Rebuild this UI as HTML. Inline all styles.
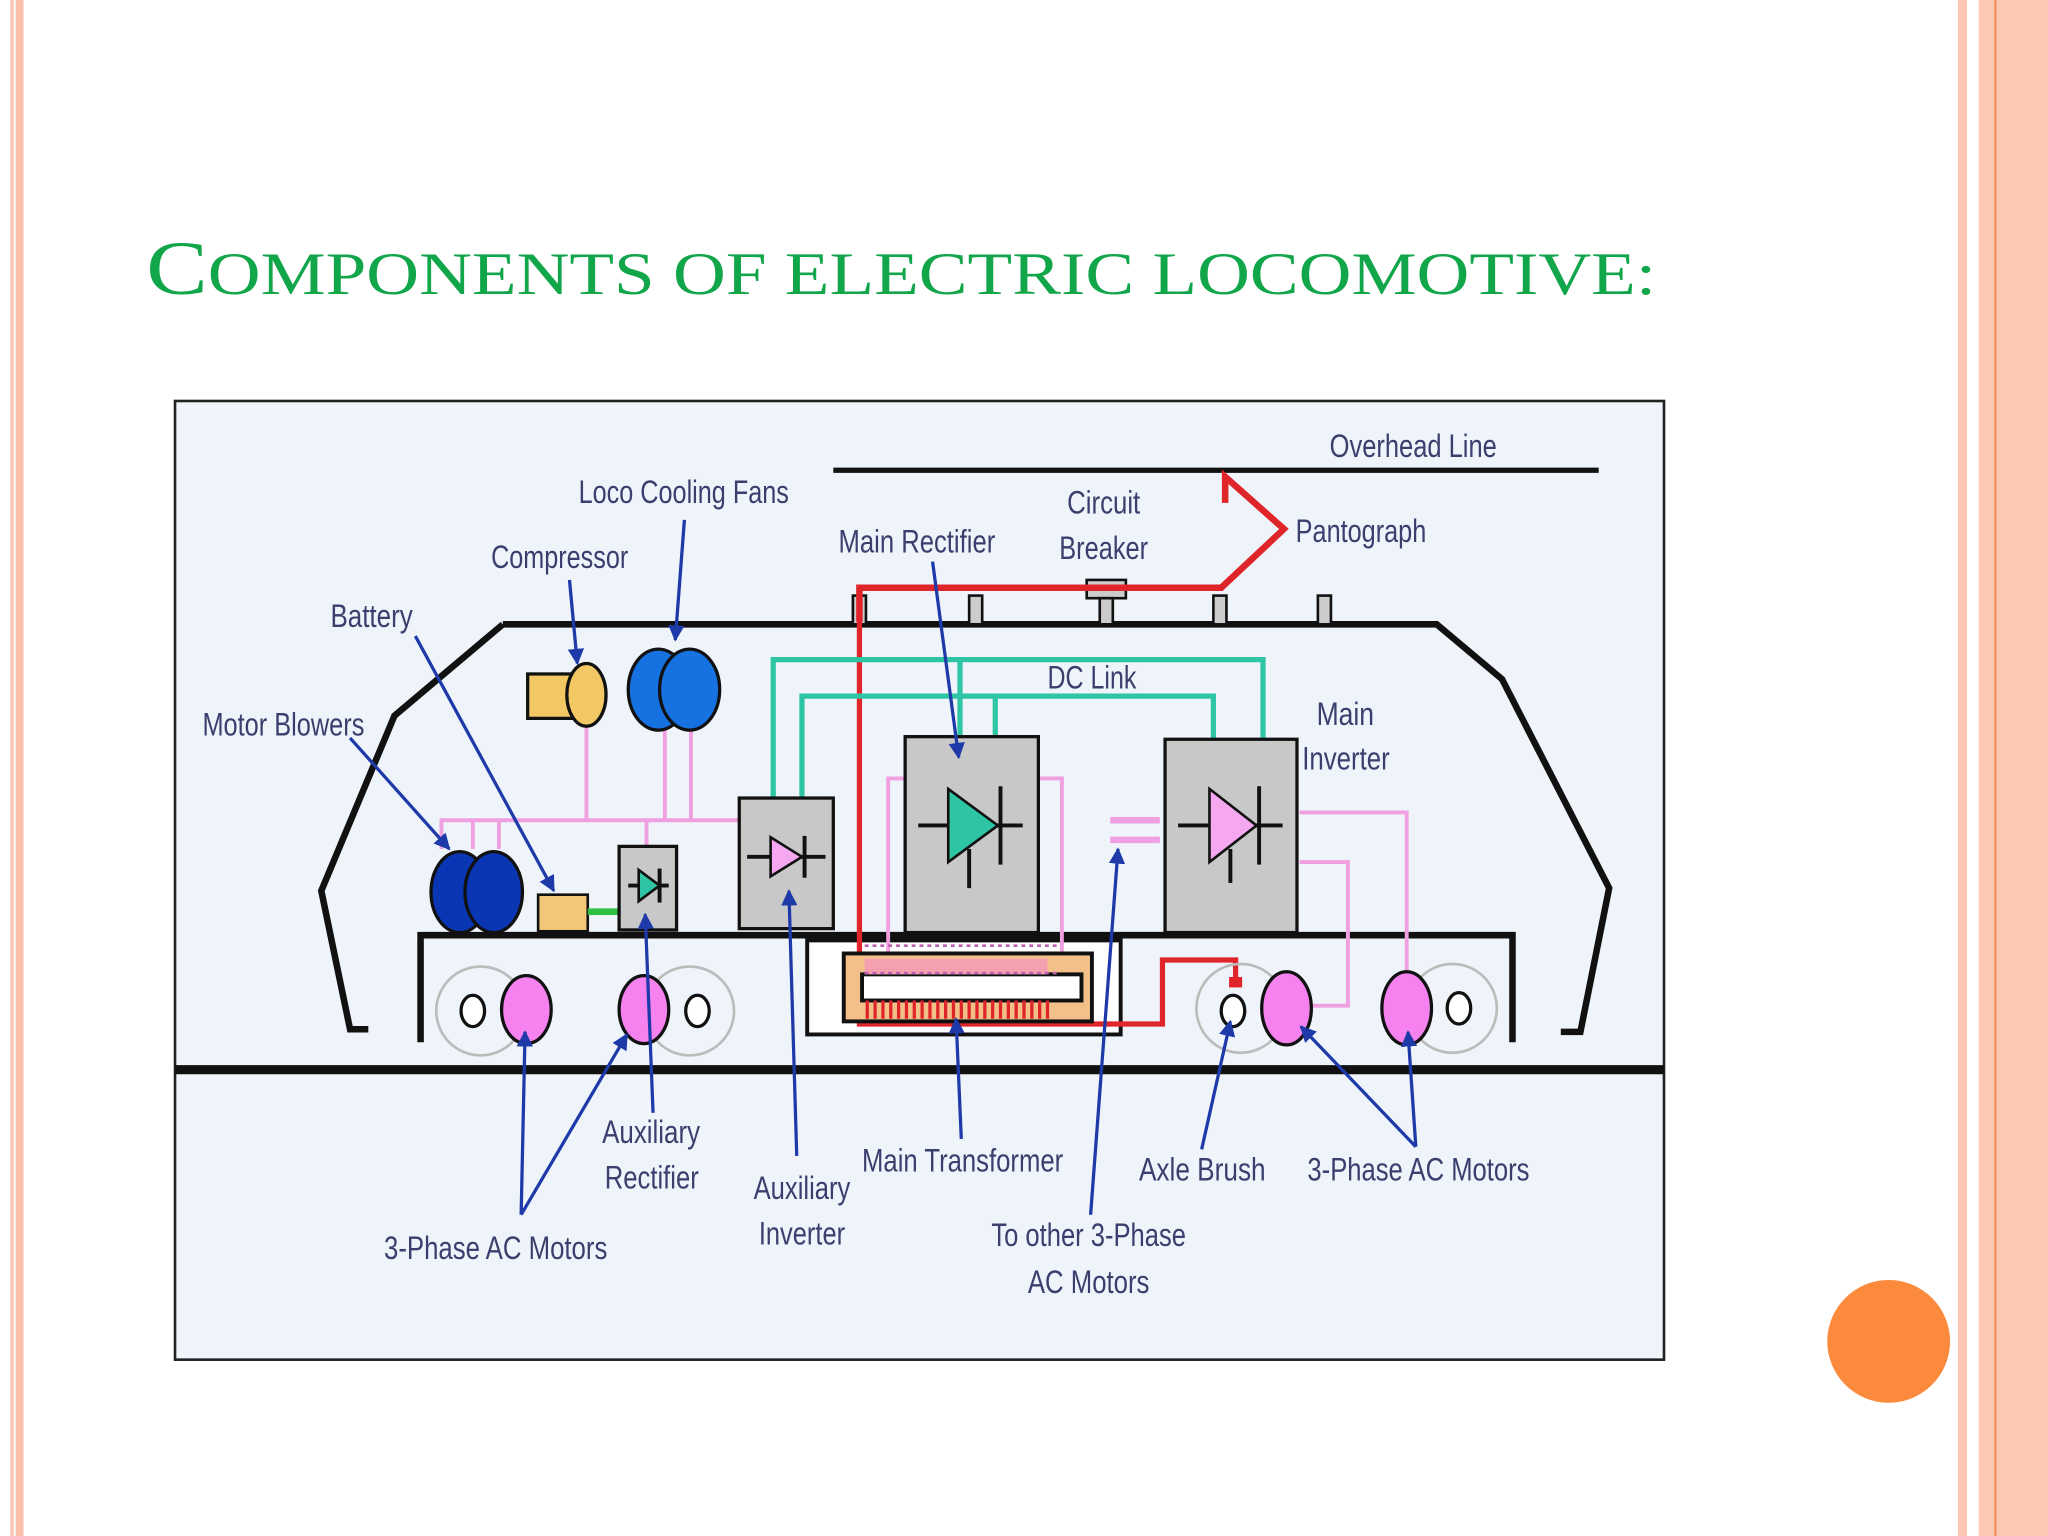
<!DOCTYPE html>
<html><head><meta charset="utf-8"><style>
html,body{margin:0;padding:0;background:#fff}
svg{display:block}
text{font-family:"Liberation Sans",sans-serif;fill:#3a3f6e}
</style></head><body>
<svg width="2048" height="1536" viewBox="0 0 1568 1176" xmlns="http://www.w3.org/2000/svg">
<rect width="1568" height="1176" fill="#fff"/>
<rect x="8" y="0" width="2.5" height="1176" fill="#fcc3b0"/>
<rect x="12" y="0" width="6" height="1176" fill="#fcbfab"/>
<rect x="1499" y="0" width="7" height="1176" fill="#fcc6b2"/>
<rect x="1515" y="0" width="53" height="1176" fill="#fdc8b3"/>
<rect x="1527" y="0" width="1.5" height="1176" fill="#f08a50"/>
<circle cx="1446" cy="1027" r="47" fill="#fb8a3c"/>
<text x="112" y="225" textLength="1156" lengthAdjust="spacingAndGlyphs" style="fill:#12a64a;font-family:'Liberation Serif',serif;font-size:58px">C<tspan font-size="46">OMPONENTS OF ELECTRIC LOCOMOTIVE:</tspan></text>

<rect x="134" y="307" width="1140" height="734" fill="#eef4fa" stroke="#222" stroke-width="2"/>
<line x1="638" y1="360" x2="1224" y2="360" stroke="#111" stroke-width="4"/>
<line x1="134" y1="819" x2="1274" y2="819" stroke="#111" stroke-width="7"/>
<path d="M385 478 L1100 478 L1150 520 L1232 680 L1210 790 L1195 790" fill="none" stroke="#111" stroke-width="5"/>
<path d="M385 478 L302 548 L246 682 L268 788 L282 788" fill="none" stroke="#111" stroke-width="5"/>
<path d="M322 798 L322 716 L1158 716 L1158 798" fill="none" stroke="#111" stroke-width="5"/>
<rect x="618" y="720" width="240" height="72" fill="#fff" stroke="#111" stroke-width="3"/>
<g fill="#ccc" stroke="#111" stroke-width="2">
<rect x="653" y="456" width="10" height="22"/><rect x="742" y="456" width="10" height="22"/>
<rect x="929" y="456" width="10" height="22"/><rect x="1009" y="456" width="10" height="22"/>
<rect x="832" y="444" width="30" height="14"/><rect x="842" y="458" width="10" height="20"/>
</g>
<path d="M658 476 L658 450 L935 450 L983 405 L938 365 L938 385" fill="none" stroke="#e0252a" stroke-width="5"/>
<path d="M658 450 L658 784 L815 784" fill="none" stroke="#e0252a" stroke-width="4"/>
<path d="M815 784 L890 784 L890 735 L946 735 L946 752" fill="none" stroke="#e0252a" stroke-width="4"/>
<rect x="941" y="748" width="10" height="8" fill="#e0252a"/>
<g fill="none" stroke="#2ec5a5" stroke-width="4">
<path d="M592 612 L592 505 L967 505 L967 565"/>
<path d="M614 612 L614 533 L929 533 L929 565"/>
<line x1="735" y1="505" x2="735" y2="565"/><line x1="762" y1="533" x2="762" y2="565"/>
</g>
<g fill="none" stroke="#f0a0e0" stroke-width="3">
<path d="M338 650 L338 628 L566 628"/>
<line x1="362" y1="628" x2="362" y2="650"/><line x1="382" y1="628" x2="382" y2="650"/>
<line x1="449" y1="548" x2="449" y2="628"/><line x1="509" y1="550" x2="509" y2="628"/><line x1="529" y1="550" x2="529" y2="628"/>
<line x1="495" y1="628" x2="495" y2="648"/>
<path d="M693 596 L680 596 L680 760"/><path d="M795 596 L813 596 L813 760"/>
<path d="M995 622 L1077 622 L1077 770"/><path d="M995 660 L1032 660 L1032 770 L1005 770"/>
<line x1="850" y1="628" x2="888" y2="628" stroke-width="5"/><line x1="850" y1="643" x2="888" y2="643" stroke-width="5"/>
</g>
<rect x="646" y="730" width="190" height="52" fill="#f3c08a" stroke="#111" stroke-width="3"/>
<rect x="660" y="746" width="168" height="20" fill="#fff" stroke="#111" stroke-width="3"/>
<rect x="662" y="734" width="140" height="12" fill="#f4a0b0"/>
<g stroke="#e0252a" stroke-width="2.5">
<path d="M664 766 v14 M670 766 v14 M676 766 v14 M682 766 v14 M688 766 v14 M694 766 v14 M700 766 v14 M706 766 v14 M712 766 v14 M718 766 v14 M724 766 v14 M730 766 v14 M736 766 v14 M742 766 v14 M748 766 v14 M754 766 v14 M760 766 v14 M766 766 v14 M772 766 v14 M778 766 v14 M784 766 v14 M790 766 v14 M796 766 v14 M802 766 v14"/>
</g>
<g stroke="#c060b0" stroke-width="2" stroke-dasharray="3 3">
<line x1="662" y1="724" x2="812" y2="724"/><line x1="662" y1="745" x2="812" y2="745"/>
</g>
<g fill="none" stroke="#bbb" stroke-width="2">
<circle cx="368" cy="774" r="34"/><circle cx="528" cy="774" r="34"/><circle cx="950" cy="772" r="34"/><circle cx="1112" cy="772" r="34"/>
</g>
<g fill="#fff" stroke="#111" stroke-width="2.5">
<ellipse cx="362" cy="774" rx="9" ry="12"/><ellipse cx="534" cy="774" rx="9" ry="12"/><ellipse cx="944" cy="774" rx="9" ry="12"/><ellipse cx="1117" cy="772" rx="9" ry="12"/>
</g>
<g fill="#f582ee" stroke="#111" stroke-width="2.5">
<ellipse cx="403" cy="773" rx="19" ry="26"/><ellipse cx="493" cy="773" rx="19" ry="26"/><ellipse cx="985" cy="772" rx="19" ry="28"/><ellipse cx="1077" cy="772" rx="19" ry="28"/>
</g>
<rect x="404" y="516" width="38" height="34" fill="#f2c865" stroke="#111" stroke-width="2.5"/>
<ellipse cx="449" cy="532" rx="15" ry="24" fill="#f2c865" stroke="#111" stroke-width="2.5"/>
<ellipse cx="504" cy="528" rx="23" ry="31" fill="#1672e0" stroke="#111" stroke-width="2.5"/>
<ellipse cx="528" cy="528" rx="23" ry="31" fill="#1672e0" stroke="#111" stroke-width="2.5"/>
<ellipse cx="352" cy="683" rx="22" ry="31" fill="#0a36b4" stroke="#111" stroke-width="2.5"/>
<ellipse cx="378" cy="683" rx="22" ry="31" fill="#0a36b4" stroke="#111" stroke-width="2.5"/>
<rect x="412" y="685" width="38" height="28" fill="#f2c878" stroke="#111" stroke-width="2"/>
<line x1="450" y1="698" x2="474" y2="698" stroke="#2dc040" stroke-width="5"/>
<g fill="#c8c8c8" stroke="#111" stroke-width="2.5">
<rect x="474" y="648" width="44" height="64"/>
<rect x="566" y="611" width="72" height="100"/>
<rect x="693" y="564" width="102" height="150"/>
<rect x="892" y="566" width="101" height="148"/>
</g>
<g stroke="#111" stroke-width="3">
<line x1="481" y1="678" x2="512" y2="678"/><path d="M489 666 L505 678 L489 690Z" fill="#2ec5a5" stroke-width="2"/><line x1="505" y1="665" x2="505" y2="691"/>
<line x1="572" y1="656" x2="632" y2="656"/><path d="M590 641 L614 656 L590 671Z" fill="#f5a8f0" stroke-width="2"/><line x1="616" y1="640" x2="616" y2="672"/>
<line x1="703" y1="632" x2="783" y2="632"/><path d="M726 604 L764 632 L726 660Z" fill="#2ec5a5" stroke-width="2"/><line x1="766" y1="602" x2="766" y2="662"/><line x1="742" y1="650" x2="742" y2="680"/>
<line x1="902" y1="632" x2="982" y2="632"/><path d="M926 604 L962 632 L926 660Z" fill="#f5a8f0" stroke-width="2"/><line x1="964" y1="602" x2="964" y2="662"/><line x1="942" y1="650" x2="942" y2="676"/>
</g>
<defs><marker id="a" viewBox="0 0 10 10" refX="9" refY="5" markerWidth="5" markerHeight="5" orient="auto"><path d="M0 0L10 5L0 10Z" fill="#1e3aa8"/></marker></defs>
<g stroke="#1e3aa8" stroke-width="2.5" fill="none" marker-end="url(#a)">
<line x1="268" y1="565" x2="344" y2="650"/>
<line x1="318" y1="487" x2="424" y2="682"/>
<line x1="436" y1="444" x2="442" y2="508"/>
<line x1="524" y1="398" x2="517" y2="490"/>
<line x1="714" y1="430" x2="734" y2="580"/>
<line x1="399" y1="930" x2="402" y2="790"/>
<line x1="399" y1="930" x2="480" y2="792"/>
<line x1="500" y1="852" x2="494" y2="700"/>
<line x1="610" y1="885" x2="604" y2="682"/>
<line x1="736" y1="872" x2="732" y2="780"/>
<line x1="835" y1="930" x2="856" y2="650"/>
<line x1="920" y1="880" x2="942" y2="782"/>
<line x1="1084" y1="878" x2="996" y2="786"/>
<line x1="1084" y1="878" x2="1078" y2="790"/>
</g>
<g font-size="25" lengthAdjust="spacingAndGlyphs">
<text x="1018" y="350" textLength="128" lengthAdjust="spacingAndGlyphs">Overhead Line</text>
<text x="443" y="385" textLength="161" lengthAdjust="spacingAndGlyphs">Loco Cooling Fans</text>
<text x="817" y="393" textLength="56" lengthAdjust="spacingAndGlyphs">Circuit</text>
<text x="811" y="428" textLength="68" lengthAdjust="spacingAndGlyphs">Breaker</text>
<text x="992" y="415" textLength="100" lengthAdjust="spacingAndGlyphs">Pantograph</text>
<text x="642" y="423" textLength="120" lengthAdjust="spacingAndGlyphs">Main Rectifier</text>
<text x="376" y="435" textLength="105" lengthAdjust="spacingAndGlyphs">Compressor</text>
<text x="253" y="480" textLength="63" lengthAdjust="spacingAndGlyphs">Battery</text>
<text x="802" y="527" textLength="68" lengthAdjust="spacingAndGlyphs">DC Link</text>
<text x="1008" y="555" textLength="44" lengthAdjust="spacingAndGlyphs">Main</text>
<text x="997" y="589" textLength="67" lengthAdjust="spacingAndGlyphs">Inverter</text>
<text x="155" y="563" textLength="124" lengthAdjust="spacingAndGlyphs">Motor Blowers</text>
<text x="461" y="875" textLength="75" lengthAdjust="spacingAndGlyphs">Auxiliary</text>
<text x="463" y="910" textLength="72" lengthAdjust="spacingAndGlyphs">Rectifier</text>
<text x="660" y="897" textLength="154" lengthAdjust="spacingAndGlyphs">Main Transformer</text>
<text x="872" y="904" textLength="97" lengthAdjust="spacingAndGlyphs">Axle Brush</text>
<text x="1001" y="904" textLength="170" lengthAdjust="spacingAndGlyphs">3-Phase AC Motors</text>
<text x="577" y="918" textLength="74" lengthAdjust="spacingAndGlyphs">Auxiliary</text>
<text x="581" y="953" textLength="66" lengthAdjust="spacingAndGlyphs">Inverter</text>
<text x="759" y="954" textLength="149" lengthAdjust="spacingAndGlyphs">To other 3-Phase</text>
<text x="787" y="990" textLength="93" lengthAdjust="spacingAndGlyphs">AC Motors</text>
<text x="294" y="964" textLength="171" lengthAdjust="spacingAndGlyphs">3-Phase AC Motors</text>
</g>
</svg>
</body></html>
